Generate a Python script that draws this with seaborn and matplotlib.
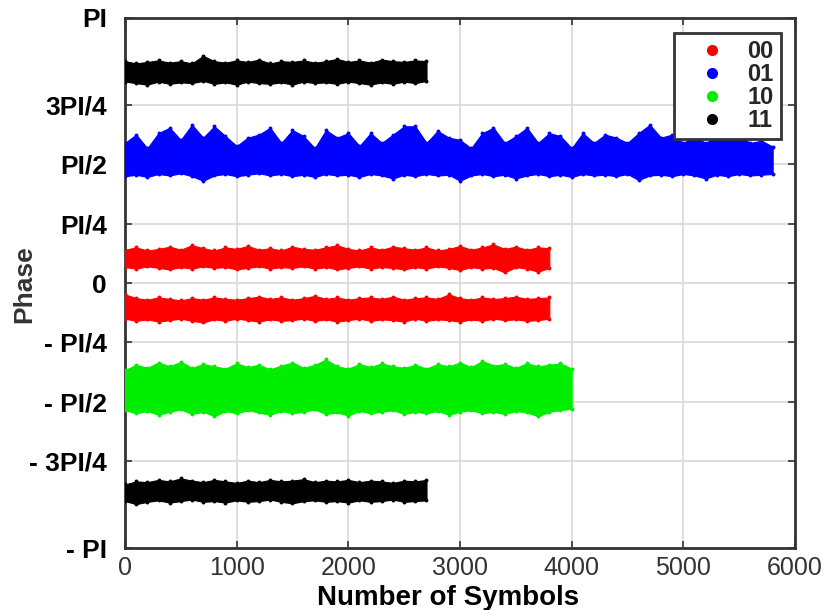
import numpy as np
import pandas as pd
import matplotlib
matplotlib.use("Agg")
import matplotlib.pyplot as plt
import seaborn as sns
from matplotlib.lines import Line2D

step = 100

blue_upper = [1.85, 1.96, 1.78, 1.98, 2.05, 1.89, 2.09, 1.92, 2.07, 1.94, 1.81, 1.92, 1.96, 2.05, 1.85,
              2.02, 1.94, 1.78, 2.02, 1.92, 1.98, 1.81, 1.98, 1.85, 1.96, 2.07, 2.07, 1.85, 2.01, 1.92,
              1.89, 1.78, 1.98, 2.05, 1.85, 1.94, 2.05, 1.85, 1.98, 1.94, 1.78, 1.98, 1.85, 1.96, 1.92,
              1.85, 1.98, 2.09, 1.92, 1.96, 1.85, 1.94, 1.85, 1.94, 1.89, 1.94, 1.85, 1.88, 1.80]
blue_lower = [1.41, 1.43, 1.40, 1.44, 1.42, 1.45, 1.41, 1.35, 1.42, 1.44, 1.41, 1.43, 1.45, 1.42, 1.44,
              1.41, 1.43, 1.40, 1.44, 1.42, 1.43, 1.40, 1.44, 1.42, 1.38, 1.43, 1.41, 1.44, 1.42, 1.43,
              1.35, 1.42, 1.44, 1.41, 1.43, 1.38, 1.42, 1.44, 1.41, 1.43, 1.40, 1.44, 1.42, 1.43, 1.41,
              1.44, 1.36, 1.42, 1.43, 1.41, 1.44, 1.42, 1.38, 1.43, 1.41, 1.44, 1.42, 1.43, 1.44]

red_a_upper = [0.44, 0.47, 0.43, 0.45, 0.48, 0.44, 0.50, 0.46, 0.43, 0.47, 0.45, 0.49, 0.44, 0.46, 0.43,
               0.48, 0.45, 0.44, 0.47, 0.50, 0.45, 0.43, 0.47, 0.44, 0.48, 0.46, 0.44, 0.47, 0.43, 0.45,
               0.49, 0.44, 0.47, 0.51, 0.45, 0.48, 0.44, 0.47, 0.46]
red_a_lower = [0.21, 0.19, 0.22, 0.20, 0.18, 0.21, 0.19, 0.22, 0.20, 0.21, 0.18, 0.20, 0.22, 0.19, 0.21,
               0.20, 0.22, 0.19, 0.21, 0.18, 0.20, 0.22, 0.19, 0.21, 0.20, 0.18, 0.21, 0.19, 0.22, 0.20,
               0.17, 0.21, 0.19, 0.20, 0.14, 0.21, 0.19, 0.15, 0.20]

red_b_upper = [-0.15, -0.20, -0.22, -0.19, -0.21, -0.23, -0.20, -0.22, -0.19, -0.21, -0.22, -0.20, -0.18,
               -0.21, -0.19, -0.22, -0.20, -0.17, -0.21, -0.19, -0.22, -0.20, -0.19, -0.21, -0.18, -0.22,
               -0.20, -0.19, -0.21, -0.15, -0.20, -0.22, -0.19, -0.21, -0.20, -0.18, -0.21, -0.20, -0.19]
red_b_lower = [-0.47, -0.50, -0.48, -0.51, -0.49, -0.47, -0.50, -0.52, -0.48, -0.50, -0.47, -0.49, -0.51,
               -0.48, -0.50, -0.49, -0.47, -0.50, -0.48, -0.51, -0.49, -0.47, -0.50, -0.48, -0.49, -0.51,
               -0.47, -0.50, -0.48, -0.49, -0.51, -0.48, -0.50, -0.47, -0.49, -0.48, -0.50, -0.49, -0.47]

green_upper = [-1.15, -1.08, -1.12, -1.05, -1.10, -1.04, -1.12, -1.07, -1.10, -1.13, -1.06, -1.11, -1.08,
               -1.14, -1.09, -1.05, -1.12, -1.08, -1.01, -1.10, -1.13, -1.07, -1.11, -1.06, -1.10, -1.12,
               -1.08, -1.13, -1.07, -1.10, -1.05, -1.11, -1.03, -1.09, -1.07, -1.12, -1.06, -1.10, -1.08,
               -1.06, -1.13]
green_lower = [-1.68, -1.72, -1.69, -1.74, -1.70, -1.67, -1.73, -1.70, -1.76, -1.69, -1.72, -1.68, -1.71,
               -1.74, -1.69, -1.72, -1.70, -1.67, -1.73, -1.71, -1.75, -1.69, -1.72, -1.70, -1.68, -1.73,
               -1.70, -1.72, -1.69, -1.74, -1.70, -1.68, -1.72, -1.70, -1.73, -1.69, -1.71, -1.76, -1.70,
               -1.68, -1.66]

black_a_upper = [2.93, 2.90, 2.92, 2.94, 2.91, 2.93, 2.90, 3.00, 2.93, 2.91, 2.94, 2.92, 2.95, 2.90,
                 2.93, 2.92, 2.94, 2.91, 2.93, 2.96, 2.92, 2.94, 2.91, 2.95, 2.93, 2.92, 2.94, 2.93]
black_a_lower = [2.66, 2.64, 2.62, 2.66, 2.63, 2.65, 2.64, 2.67, 2.63, 2.65, 2.62, 2.66, 2.64, 2.63,
                 2.65, 2.62, 2.66, 2.64, 2.65, 2.63, 2.66, 2.64, 2.62, 2.65, 2.63, 2.66, 2.64, 2.67]

black_b_upper = [-2.66, -2.62, -2.63, -2.60, -2.62, -2.58, -2.61, -2.63, -2.60, -2.62, -2.64, -2.61,
                 -2.63, -2.60, -2.62, -2.61, -2.59, -2.63, -2.61, -2.62, -2.60, -2.63, -2.61, -2.62,
                 -2.64, -2.61, -2.62, -2.60]
black_b_lower = [-2.88, -2.92, -2.89, -2.87, -2.90, -2.88, -2.86, -2.89, -2.88, -2.90, -2.87, -2.89,
                 -2.88, -2.86, -2.89, -2.91, -2.88, -2.87, -2.89, -2.88, -2.90, -2.87, -2.89, -2.88,
                 -2.86, -2.89, -2.88, -2.87]

symbols_labels = ["00", "01", "10", "11"]
symbol_colors = ["#ff0000", "#0000ff", "#00ee00", "#000000"]

ytick_vals = [-3.5, -3 * np.pi / 4, -np.pi / 2, -np.pi / 4, 0, np.pi / 4, np.pi / 2, 3 * np.pi / 4, 3.5]
ytick_labels = ["- PI", "- 3PI/4", "- PI/2", "- PI/4", "0", "PI/4", "PI/2", "3PI/4", "PI"]
xtick_vals = [0, 1000, 2000, 3000, 4000, 5000, 6000]

bands = [
    ("00", red_a_upper, red_a_lower),
    ("00", red_b_upper, red_b_lower),
    ("01", blue_upper, blue_lower),
    ("10", green_upper, green_lower),
    ("11", black_a_upper, black_a_lower),
    ("11", black_b_upper, black_b_lower),
]

rows = []
for i, (sym, up, lo) in enumerate(bands):
    for k, (u, l) in enumerate(zip(up, lo)):
        rows.append({"band": i, "symbol": sym, "n": k * step, "upper": u, "lower": l})
df = pd.DataFrame(rows)

# ---- plotting ----
sns.set_theme(style="white")
plt.rcParams["font.family"] = ["Liberation Sans", "DejaVu Sans"]

fig = plt.figure(figsize=(8.24, 6.10), dpi=100)
ax = fig.add_axes([0.1517, 0.1016, 0.8131, 0.8689])

cmap = dict(zip(symbols_labels, symbol_colors))
for i, g in df.groupby("band"):
    c = cmap[g["symbol"].iloc[0]]
    ax.fill_between(g["n"], g["lower"], g["upper"], color=c, lw=0.8, edgecolor=c, zorder=3)
    pts = pd.DataFrame({"n": list(g["n"]) * 2, "v": list(g["upper"]) + list(g["lower"])})
    sns.scatterplot(data=pts, x="n", y="v", color=c, s=8, linewidth=0, ax=ax, zorder=4, legend=False)

ax.set_xlim(0, 6000)
ax.set_ylim(-3.5, 3.5)
ax.set_xticks(xtick_vals)
ax.set_xticklabels([str(v) for v in xtick_vals], fontsize=18, color="#333333")
ax.set_yticks(ytick_vals)
ax.set_yticklabels(ytick_labels, fontsize=19, fontweight="bold", color="black")
ax.tick_params(axis="both", direction="in", length=5, width=1.2, top=True, right=True,
               bottom=True, left=True, color="#333333")
ax.tick_params(axis="y", pad=13)
ax.tick_params(axis="x", pad=6)
ax.grid(True, color="#d8d8d8", lw=1.2)
ax.set_axisbelow(True)
for s in ax.spines.values():
    s.set_color("#333333")
    s.set_linewidth(2)
    s.set_visible(True)

ax.set_xlabel("Number of Symbols", fontsize=20, fontweight="bold", color="black")
ax.xaxis.set_label_coords(0.482, -0.070)
ax.set_ylabel("Phase", fontsize=19, fontweight="bold", color="#333333")
ax.yaxis.set_label_coords(-0.132, 0.497)

handles = [Line2D([], [], marker="o", ls="", color=c, markersize=7) for c in symbol_colors]
leg = ax.legend(handles, symbols_labels, loc="upper right", bbox_to_anchor=(0.979, 0.972),
                borderaxespad=0, fontsize=17, frameon=True, fancybox=False, framealpha=1,
                edgecolor="#333333", handletextpad=0.2, labelspacing=0.0, borderpad=0.3,
                handlelength=2.6)
leg.get_frame().set_linewidth(2)
for t in leg.get_texts():
    t.set_fontweight("bold")

fig.savefig("out.png", dpi=100)
